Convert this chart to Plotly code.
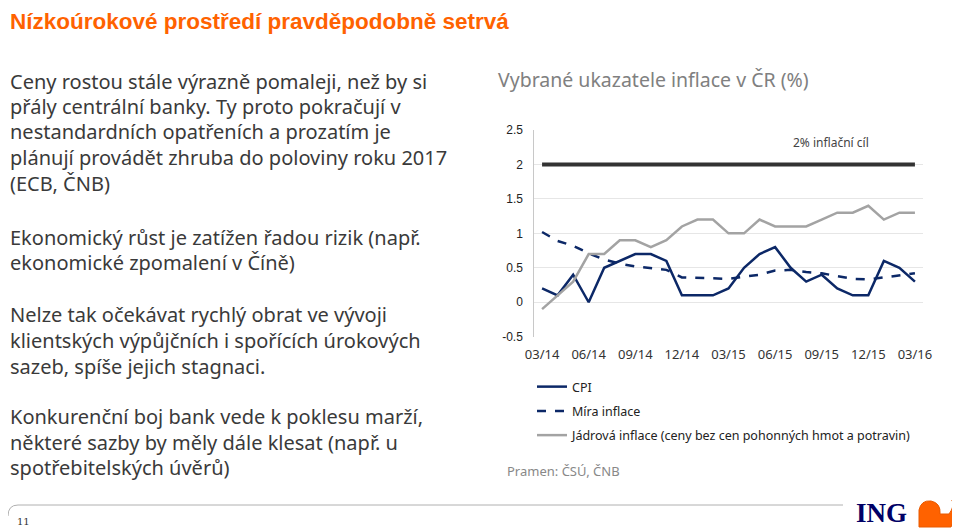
import plotly.graph_objects as go

# monthly data 03/14 .. 03/16
months = [
    "03/14", "04/14", "05/14", "06/14", "07/14", "08/14", "09/14", "10/14", "11/14",
    "12/14", "01/15", "02/15", "03/15", "04/15", "05/15", "06/15", "07/15", "08/15",
    "09/15", "10/15", "11/15", "12/15", "01/16", "02/16", "03/16",
]
cpi = [0.2, 0.1, 0.4, 0.0, 0.5, 0.6, 0.7, 0.7, 0.6, 0.1, 0.1, 0.1, 0.2,
       0.5, 0.7, 0.8, 0.5, 0.3, 0.4, 0.2, 0.1, 0.1, 0.6, 0.5, 0.3]
mira_inflace = [1.02, 0.89, 0.82, 0.71, 0.62, 0.56, 0.52, 0.50, 0.47, 0.36, 0.35,
                0.34, 0.34, 0.37, 0.40, 0.46, 0.47, 0.44, 0.42, 0.38, 0.34, 0.33,
                0.36, 0.40, 0.42]
jadrova = [-0.1, 0.1, 0.3, 0.7, 0.7, 0.9, 0.9, 0.8, 0.9, 1.1, 1.2, 1.2, 1.0,
           1.0, 1.2, 1.1, 1.1, 1.1, 1.2, 1.3, 1.3, 1.4, 1.2, 1.3, 1.3]
cil = [2.0] * len(months)

tick_idx = list(range(0, len(months), 3))
tick_labels = [months[i] for i in tick_idx]
y_ticks = [-0.5, 0, 0.5, 1, 1.5, 2, 2.5]
y_labels = ["-0.5", "0", "0.5", "1", "1.5", "2", "2.5"]

left_text = [
    ("Ceny rostou stále výrazně pomaleji, než by si", 82),
    ("přály centrální banky. Ty proto pokračují v", 107),
    ("nestandardních opatřeních a prozatím je", 132),
    ("plánují provádět zhruba do poloviny roku 2017", 158),
    ("(ECB, ČNB)", 184),
    ("Ekonomický růst je zatížen řadou rizik (např.", 237),
    ("ekonomické zpomalení v Číně)", 262),
    ("Nelze tak očekávat rychlý obrat ve vývoji", 314),
    ("klientských výpůjčních i spořících úrokových", 340),
    ("sazeb, spíše jejich stagnaci.", 366),
    ("Konkurenční boj bank vede k poklesu marží,", 416),
    ("některé sazby by měly dále klesat (např. u", 442),
    ("spotřebitelských úvěrů)", 467),
]

W, H = 960, 530
OFF = 8  # page body margin of the html
navy = "#0c2867"
grey = "#a3a3a3"
orange = "#ff6200"
txt = "#3a3a3a"
font_body = "Noto Sans, Open Sans, sans-serif"


def px(v):
    return max(v - OFF, 0) / W


def py(v):
    return 1 - (v - OFF) / H


x = list(range(len(months)))

fig = go.Figure()
fig.add_trace(go.Scatter(x=x, y=cil, mode="lines", showlegend=False,
                         line=dict(color="#333333", width=4), hoverinfo="skip"))
fig.add_trace(go.Scatter(x=x, y=cpi, mode="lines", name="CPI", legendgroup="a",
                         line=dict(color=navy, width=2.5)))
fig.add_trace(go.Scatter(x=x, y=mira_inflace, mode="lines", name="Míra inflace",
                         legendgroup="b",
                         line=dict(color=navy, width=2.5, dash="dash")))
fig.add_trace(go.Scatter(x=x, y=jadrova, mode="lines", legendgroup="c",
                         name="Jádrová inflace (ceny bez cen pohonných hmot a potravin)",
                         line=dict(color=grey, width=2.5)))

y0, y1 = py(336.7), py(130)
x0, x1 = px(534.3), px(922.7)
zero_pos = y0 + (y1 - y0) * (0.5 / 3.0)

fig.update_layout(
    width=W,
    height=H,
    margin=dict(l=0, r=0, t=0, b=0, autoexpand=False),
    paper_bgcolor="white",
    plot_bgcolor="white",
    showlegend=True,
    legend=dict(x=px(532), y=py(372), xanchor="left", yanchor="top",
                font=dict(family=font_body, size=12.5, color="#222222"),
                tracegroupgap=5, itemwidth=30, bgcolor="rgba(0,0,0,0)"),
    xaxis=dict(domain=[x0, x1], range=[-0.5, 24.5], tickvals=tick_idx,
               ticktext=tick_labels, showgrid=False, zeroline=False,
               showline=False, ticks="", ticklabelstandoff=8,
               tickfont=dict(family=font_body, size=13, color="#333333")),
    xaxis2=dict(domain=[x0, x1], range=[-0.5, 24.5], overlaying="x",
                anchor="free", position=zero_pos, side="bottom",
                tickvals=[i + 0.5 for i in range(-1, 25, 3)], showticklabels=False,
                ticks="outside", ticklen=5, tickcolor="#c8c8c8",
                showline=True, linecolor="#c8c8c8", linewidth=1, showgrid=False),
    yaxis=dict(domain=[y0, y1], range=[-0.5, 2.5], tickvals=y_ticks,
               ticktext=y_labels, showgrid=True, gridcolor="#e6e6e6",
               zeroline=False, showline=True, linecolor="#c8c8c8",
               ticks="", ticklabelstandoff=8,
               tickfont=dict(family="Liberation Sans, Arial", size=12, color="#222222")),
)

ann = []
ann.append(dict(text="<b>Nízkoúrokové prostředí pravděpodobně setrvá</b>",
                x=0, y=py(22), xref="paper", yref="paper",
                xanchor="left", yanchor="middle", showarrow=False,
                font=dict(family="Liberation Sans, Arial", size=22.5, color=orange)))
for line, yp in left_text:
    ann.append(dict(text=line, x=0, y=py(yp), xref="paper", yref="paper",
                    xanchor="left", yanchor="middle", showarrow=False,
                    font=dict(family=font_body, size=20, color=txt)))
ann.append(dict(text="Vybrané ukazatele inflace v ČR (%)", x=px(496), y=py(80),
                xref="paper", yref="paper", xanchor="left", yanchor="middle",
                showarrow=False, font=dict(family=font_body, size=19.5, color="#808080")))
ann.append(dict(text="2% inflační cíl", x=18.6, y=2.32, xref="x", yref="y",
                xanchor="center", yanchor="middle", showarrow=False,
                font=dict(family=font_body, size=12, color="#444444")))
ann.append(dict(text="Pramen: ČSÚ, ČNB", x=px(505), y=py(471), xref="paper",
                yref="paper", xanchor="left", yanchor="middle", showarrow=False,
                font=dict(family=font_body, size=13, color="#888888")))
ann.append(dict(text="11", x=px(15), y=py(521), xref="paper", yref="paper",
                xanchor="left", yanchor="middle", showarrow=False,
                font=dict(family="DejaVu Serif, serif", size=10, color="#333333")))
ann.append(dict(text="<b>ING</b>", x=px(854), y=py(513), xref="paper",
                yref="paper", xanchor="left", yanchor="middle", showarrow=False,
                font=dict(family="Liberation Serif, serif", size=27, color="#000066")))
fig.update_layout(annotations=ann)

# footer rule and lion mark
fig.add_shape(type="path", xref="paper", yref="paper",
              path=f"M {px(8)} {py(516)} Q {px(8)} {py(505)} {px(18)} {py(505)} L {px(843)} {py(505)}",
              line=dict(color="#b0b0b0", width=1))
fig.add_shape(type="path", xref="paper", yref="paper",
              path=(f"M {px(919)} {py(527)} L {px(919)} {py(510)} "
                    f"Q {px(921)} {py(500)} {px(931)} {py(501)} "
                    f"Q {px(941)} {py(503)} {px(940)} {py(514)} "
                    f"L {px(949)} {py(514)} Q {px(955)} {py(506)} {px(952)} {py(500)} "
                    f"Q {px(959)} {py(512)} {px(951)} {py(527)} Z"),
              fillcolor=orange, line=dict(color="#e85a00", width=1))

fig.write_html("out.html")
